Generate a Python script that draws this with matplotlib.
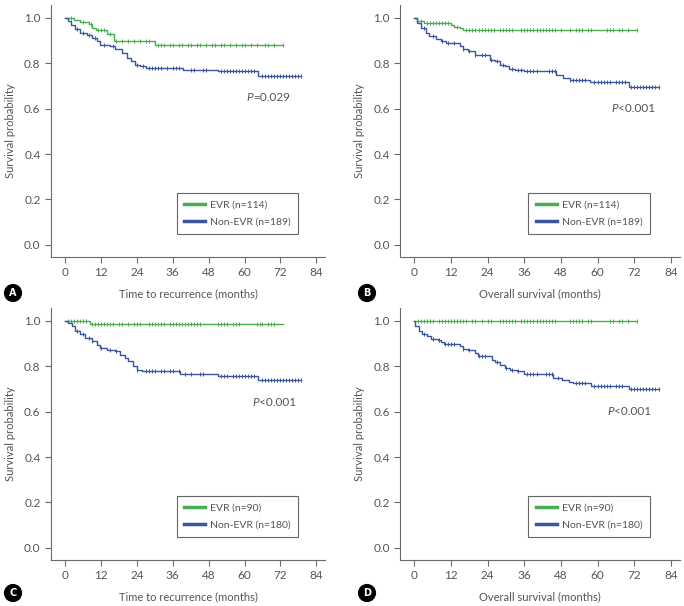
import matplotlib
matplotlib.use('Agg')
import matplotlib.pyplot as plt
import numpy as np

plt.rcParams['font.family'] = ['Lato', 'DejaVu Sans']

# ---- data ----------------------------------------------------------------
# panel A: time to recurrence, EVR n=114 vs non-EVR n=189
a_evr_t = [0, 3, 5, 8, 9, 10.5, 14, 16.5, 30]
a_evr_s = [1.0, 0.991, 0.982, 0.973, 0.955, 0.946, 0.928, 0.898, 0.882]
a_evr_end = 73
a_evr_cens = [2, 6, 8.5, 11, 12, 13, 15, 17, 19, 21, 23, 25, 27, 28, 31, 32, 33, 35, 36,
              38, 39, 41, 42, 44, 45, 47, 49, 50, 52, 53, 55, 57, 59, 60, 62, 64, 67, 68, 70, 73]
a_non_t = [0, 1, 2, 3.3, 5, 7.2, 8.9, 10.6, 11.7, 15, 16.7, 18.9, 20.6, 22.2, 23.3, 25, 27.2, 39.4, 51.1, 64.4]
a_non_s = [1.0, 0.985, 0.97, 0.949, 0.934, 0.926, 0.912, 0.897, 0.882, 0.875, 0.863, 0.846,
           0.824, 0.809, 0.794, 0.787, 0.779, 0.772, 0.765, 0.743]
a_non_end = 79
a_non_cens = [4, 6, 8, 10, 13, 16, 24, 26, 28, 29, 30, 31, 32, 34, 36, 37, 38, 42, 43, 46, 47,
              52, 53, 54, 55, 56, 57, 58, 59, 60, 61, 62, 63, 66, 67, 68, 69, 70, 71, 72, 73, 74,
              75, 76, 77, 78, 79]

# panel B: overall survival, EVR n=114 vs non-EVR n=189
b_evr_t = [0, 0.8, 3, 12, 13, 15, 16]
b_evr_s = [1.0, 0.988, 0.976, 0.968, 0.96, 0.953, 0.945]
b_evr_end = 73
b_evr_cens = [2, 4, 5, 6, 7, 8, 9, 10, 11, 14, 17, 18, 19, 20, 21, 22, 23, 24, 25, 26, 28, 29,
              30, 31, 32, 35, 36, 37, 38, 39, 40, 41, 42, 43, 44, 45, 46, 48, 51, 53, 54, 55, 57,
              58, 63, 64, 65, 67, 68, 70, 73]
b_non_t = [0, 0.9, 2, 3.7, 4.8, 7, 8.7, 10.3, 14.8, 15.9, 17.6, 19.8, 21, 24.8, 26.4, 28.1,
           29.8, 30.9, 33.1, 35.9, 46.4, 48.7, 50.9, 57.6, 70.3]
b_non_s = [1.0, 0.978, 0.956, 0.934, 0.922, 0.907, 0.897, 0.887, 0.875, 0.863, 0.853, 0.838,
           0.834, 0.816, 0.809, 0.794, 0.787, 0.776, 0.772, 0.765, 0.75, 0.735, 0.728, 0.716, 0.696]
b_non_end = 80
b_non_cens = [3, 6, 9, 11, 13, 16, 18, 20, 22, 23, 25, 27, 29, 32, 34, 35, 37, 38, 39, 40, 44,
              45, 46, 51, 52, 53, 54, 55, 56, 59, 60, 61, 62, 63, 64, 66, 67, 68, 69, 71, 72, 73,
              74, 75, 76, 77, 78, 79, 80]

# panel C: time to recurrence, EVR n=90 vs non-EVR n=180
c_evr_t = [0, 8.3]
c_evr_s = [1.0, 0.985]
c_evr_end = 73
c_evr_cens = [1, 2, 3, 4, 5, 6, 7, 9, 10, 11, 12, 13, 14, 15, 16, 18, 19, 21, 23, 24, 25, 28, 29,
              30, 31, 32, 33, 35, 36, 37, 38, 39, 40, 41, 42, 43, 44, 45, 51, 52, 53, 54, 56, 57,
              58, 64, 65, 66, 68, 69, 70]
c_non_t = [0, 1.1, 2.2, 3.3, 5, 6.7, 8.9, 10.6, 11.7, 13.9, 16.7, 18.3, 20, 21.1, 22.8, 23.9,
           25.6, 38.3, 51.1, 64.4]
c_non_s = [1.0, 0.991, 0.976, 0.954, 0.94, 0.925, 0.91, 0.895, 0.881, 0.873, 0.866, 0.851,
           0.836, 0.822, 0.799, 0.785, 0.777, 0.767, 0.755, 0.74]
c_non_end = 79
c_non_cens = [4, 6, 8, 9, 12, 15, 17, 24, 27, 28, 29, 30, 32, 33, 35, 36, 38, 40, 42, 45, 46,
              52, 53, 54, 56, 57, 58, 59, 60, 61, 62, 63, 66, 67, 68, 69, 70, 71, 72, 73, 74, 75,
              76, 77, 78, 79]

# panel D: overall survival, EVR n=90 vs non-EVR n=180
d_evr_t = [0]
d_evr_s = [1.0]
d_evr_end = 73
d_evr_cens = [1, 2, 3, 4, 5, 6, 8, 9, 10, 11, 12, 13, 14, 15, 16, 17, 19, 20, 22, 24, 25, 28, 29,
              30, 31, 32, 33, 35, 36, 37, 38, 39, 40, 41, 42, 43, 44, 45, 46, 51, 52, 53, 54, 55,
              57, 58, 64, 65, 67, 68, 70, 73]
d_non_t = [0, 0.3, 1.4, 2.6, 4.2, 5.3, 7.6, 8.7, 9.8, 14.8, 15.9, 17.6, 19.8, 20.9, 25.3, 26.4,
           28.1, 29.8, 31.4, 33.7, 35.9, 45.5, 48.5, 50.5, 52, 58, 70.3]
d_non_s = [1.0, 0.976, 0.954, 0.94, 0.932, 0.92, 0.917, 0.906, 0.898, 0.888, 0.876, 0.873,
           0.858, 0.844, 0.829, 0.82, 0.807, 0.792, 0.785, 0.777, 0.767, 0.75, 0.74, 0.73, 0.725,
           0.714, 0.699]
d_non_end = 80
d_non_cens = [3, 6, 8, 10, 11, 12, 13, 16, 18, 21, 22, 23, 27, 30, 32, 34, 37, 38, 39, 40, 43,
              44, 45, 47, 53, 54, 55, 56, 59, 60, 61, 62, 63, 64, 66, 67, 68, 71, 72, 73, 74, 75,
              76, 77, 78, 79, 80]

panels = [
    ('A', 'Time to recurrence (months)', 'P', '=0.029', (60.5, 0.65),
     (a_evr_t, a_evr_s, a_evr_end, a_evr_cens), (a_non_t, a_non_s, a_non_end, a_non_cens), 114, 189),
    ('B', 'Overall survival (months)', 'P', '<0.001', (64.5, 0.60),
     (b_evr_t, b_evr_s, b_evr_end, b_evr_cens), (b_non_t, b_non_s, b_non_end, b_non_cens), 114, 189),
    ('C', 'Time to recurrence (months)', 'P', '<0.001', (62.5, 0.64),
     (c_evr_t, c_evr_s, c_evr_end, c_evr_cens), (c_non_t, c_non_s, c_non_end, c_non_cens), 90, 180),
    ('D', 'Overall survival (months)', 'P', '<0.001', (63.2, 0.60),
     (d_evr_t, d_evr_s, d_evr_end, d_evr_cens), (d_non_t, d_non_s, d_non_end, d_non_cens), 90, 180),
]

green = '#4aad52'
blue = '#3c55a0'
grey = '#6a6a6a'
txtc = '#555555'

fig = plt.figure(figsize=(6.84, 6.06), dpi=100)
rects = [(0.0746, 0.576, 0.401, 0.416), (0.585, 0.576, 0.409, 0.416),
         (0.0746, 0.076, 0.401, 0.416), (0.585, 0.076, 0.409, 0.416)]
label_pos = [(13, 293), (367, 293), (13, 593), (367, 593)]


def km(ax, t, s, end, cens, color, label):
    t = list(t) + [end]
    s = list(s) + [s[-1]]
    ax.step(t, s, where='post', color=color, lw=1.0, label=label)
    idx = np.searchsorted(np.array(t), np.array(cens), side='right') - 1
    ax.plot(cens, np.array(s)[idx], ls='none', marker='|', ms=3.5, mew=0.7, color=color)


for (lab, xlabel, pchar, ptxt, ppos, evr, non, n1, n2), r, lp in zip(panels, rects, label_pos):
    ax = fig.add_axes(r)
    km(ax, *evr, green, 'EVR (n=%d)' % n1)
    km(ax, *non, blue, 'Non-EVR (n=%d)' % n2)
    ax.set_xlim(-4.7, 87)
    ax.set_ylim(-0.053, 1.057)
    ax.set_xticks(np.arange(0, 85, 12))
    ax.set_yticks(np.arange(0, 1.01, 0.2))
    ax.set_yticklabels(['%.1f' % v for v in np.arange(0, 1.01, 0.2)])
    for sp in ['top', 'right']:
        ax.spines[sp].set_visible(False)
    for sp in ['left', 'bottom']:
        ax.spines[sp].set_color(grey)
        ax.spines[sp].set_linewidth(0.8)
    ax.tick_params(colors=grey, labelcolor=txtc, labelsize=8.5, length=4, width=0.8)
    ax.set_xlabel(xlabel, fontsize=8, color=txtc, labelpad=7)
    ax.set_ylabel('Survival probability', fontsize=8, color=txtc, labelpad=6)
    ax.text(ppos[0], ppos[1], 'P', fontsize=8.5, color=txtc, va='center', ha='left',
            style='italic')
    ax.annotate(ptxt, xy=(ppos[0], ppos[1]), xytext=(4.8, 0), textcoords='offset points',
                fontsize=8.5, color=txtc, va='center', ha='left')
    leg = ax.legend(loc='lower left', bbox_to_anchor=(0.44, 0.07), fancybox=False,
                    edgecolor='#666666', fontsize=7.5, handlelength=2.0, handletextpad=0.5,
                    borderpad=0.7, labelspacing=0.75, framealpha=1)
    leg.get_frame().set_linewidth(0.8)
    for h in leg.legend_handles:
        h.set_linewidth(2.5)
    for tx in leg.get_texts():
        tx.set_color(txtc)
    fig.text(lp[0] / 684, 1 - lp[1] / 606, lab, ha='center', va='center', color='white',
             fontsize=7, fontweight='bold', family='DejaVu Sans',
             bbox=dict(boxstyle='circle,pad=0.35', fc='black', ec='black'))

fig.savefig('out.png', dpi=100)
